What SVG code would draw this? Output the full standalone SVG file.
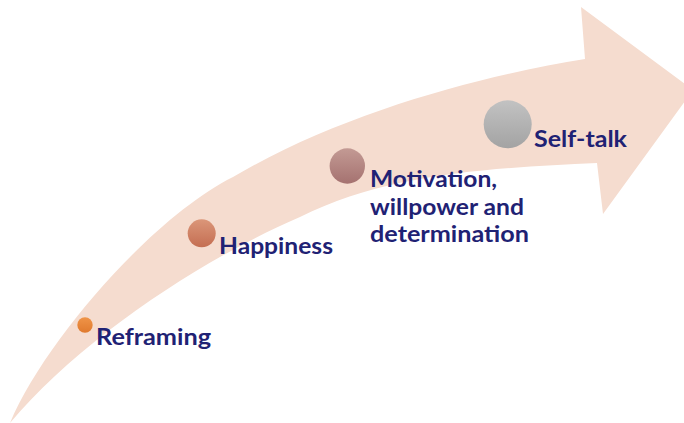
<svg xmlns="http://www.w3.org/2000/svg" width="684" height="423" viewBox="0 0 684 423">
  <defs>
    <linearGradient id="gOrange" x1="0" y1="0" x2="0" y2="1">
      <stop offset="0" stop-color="#EF9448"/>
      <stop offset="1" stop-color="#E07A2E"/>
    </linearGradient>
    <linearGradient id="gCopper" x1="0" y1="0" x2="0" y2="1">
      <stop offset="0" stop-color="#DB9679"/>
      <stop offset="1" stop-color="#C46E52"/>
    </linearGradient>
    <linearGradient id="gMauve" x1="0" y1="0" x2="0" y2="1">
      <stop offset="0" stop-color="#C39A94"/>
      <stop offset="1" stop-color="#A57270"/>
    </linearGradient>
    <linearGradient id="gGrey" x1="0" y1="0" x2="0" y2="1">
      <stop offset="0" stop-color="#C2C2C2"/>
      <stop offset="1" stop-color="#A3A3A3"/>
    </linearGradient>
    <style>
      .label { font-family: Lato, "Open Sans", "Liberation Sans", sans-serif; font-weight: 700; font-size: 22.5px; fill: #1F2274; }
      .band { fill: #F5DCCF; }
    </style>
  </defs>

  <!-- curved progress arrow -->
  <g id="arrow">
    <path class="band" d="M 10,423
      C 45,340 153,217 233,177
      C 343,112 485,75 585,59
      L 581,7 L 693,90 L 603,214 L 597,163
      C 497,168 390,172 300,217
      C 200,260 80,340 10,423 Z"/>
  </g>

  <g id="reframing">
    <circle cx="85" cy="325" r="7.7" fill="url(#gOrange)"/>
    <text class="label" x="96" y="345" textLength="115" lengthAdjust="spacingAndGlyphs">Reframing</text>
  </g>

  <g id="happiness">
    <circle cx="201.7" cy="233.3" r="14" fill="url(#gCopper)"/>
    <text class="label" x="219" y="254" textLength="114" lengthAdjust="spacingAndGlyphs">Happiness</text>
  </g>

  <g id="motivation">
    <circle cx="347.3" cy="166" r="17.7" fill="url(#gMauve)"/>
    <text class="label" x="370" y="187" textLength="127" lengthAdjust="spacingAndGlyphs">Motivation,</text>
    <text class="label" x="370" y="214.5" textLength="154" lengthAdjust="spacingAndGlyphs">willpower and</text>
    <text class="label" x="370" y="242" textLength="159" lengthAdjust="spacingAndGlyphs">determination</text>
  </g>

  <g id="self-talk">
    <circle cx="507.7" cy="124.3" r="24" fill="url(#gGrey)"/>
    <text class="label" x="534" y="147" textLength="93" lengthAdjust="spacingAndGlyphs">Self-talk</text>
  </g>

  <g id="connectors"/>
</svg>
